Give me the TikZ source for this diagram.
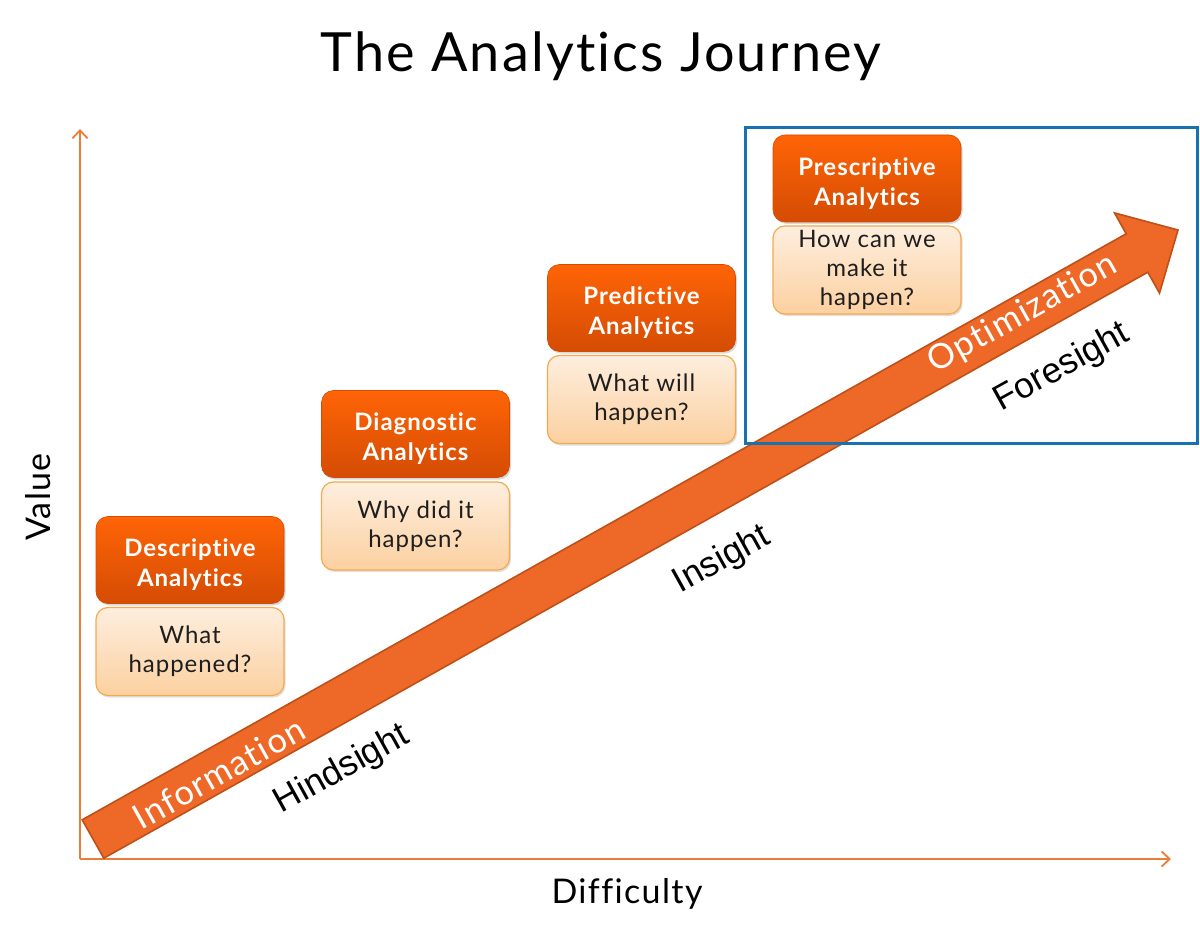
\documentclass[tikz,border=0pt]{standalone}
\usepackage{fontspec}
\setmainfont[Ligatures=NoCommon]{Lato}
\newfontfamily\av[LetterSpace=4,Ligatures=NoCommon]{Lato}
\newfontfamily\arialf{Liberation Sans}
\usetikzlibrary{arrows.meta,shadows}
\definecolor{axiscol}{RGB}{235,125,60}
\definecolor{boxtop}{RGB}{255,100,6}
\definecolor{boxbot}{RGB}{212,76,4}
\definecolor{qtop}{RGB}{253,238,222}
\definecolor{qbot}{RGB}{252,208,160}
\definecolor{qborder}{RGB}{243,170,80}
\definecolor{arrowfill}{RGB}{238,104,40}
\definecolor{arrowedge}{RGB}{190,80,25}
\definecolor{bluecol}{RGB}{24,114,176}
\definecolor{qtext}{RGB}{30,30,30}
\newcommand{\boxlines}[2]{\raisebox{-5pt}[\height][\depth]{\parbox{188pt}{\centering #1\\#2}}}
\begin{document}
\begin{tikzpicture}[x=1pt,y=-1pt,
  axisline/.style={draw=axiscol,line width=1.8pt,-{Straight Barb[length=8pt,width=15pt,line width=1.8pt]}},
  topbox/.style={rounded corners=12pt,minimum width=188pt,minimum height=87pt,inner sep=0pt,
    top color=boxtop,bottom color=boxbot,draw=boxbot,line width=0.6pt,text=white,align=center,
    font=\av\bfseries\fontsize{24}{30}\selectfont,
    drop shadow={opacity=0.3,shadow xshift=1.5pt,shadow yshift=-2pt}},
  qbox/.style={rounded corners=12pt,minimum width=188pt,minimum height=88pt,inner sep=0pt,
    top color=qtop,bottom color=qbot,draw=qborder,line width=1.2pt,text=qtext,align=center,
    font=\av\fontsize{24}{29}\selectfont,
    drop shadow={opacity=0.25,shadow xshift=1.5pt,shadow yshift=-2pt}},
  bigarrow/.style={fill=arrowfill,draw=arrowedge,line width=1.6pt,line join=miter},
  ontext/.style={text=white,font=\av\fontsize{34.5}{40}\selectfont,rotate=29.3},
  sidetext/.style={text=black,font=\arialf\fontsize{35.5}{40}\selectfont,rotate=29},
  axislabel/.style={text=black,font=\av\fontsize{34}{38}\selectfont}
]
\useasboundingbox (0,0) rectangle (1200,928);
\fill[white] (0,0) rectangle (1200,928);

% title
\node[anchor=base,font=\av\fontsize{54}{60}\selectfont] (title) at (601,72) {The Analytics Journey};

% axes
\coordinate (O) at (80,859);
\coordinate (ytop) at (80,129);
\coordinate (xend) at (1171,859);
\draw[axisline] (O) -- (ytop);
\draw[axisline] (O) -- (xend);
\node[axislabel,rotate=90] (value) at (38,497) {Value};
\node[axislabel] (difficulty) at (627,894) {Difficulty};

% big arrow
\coordinate (tA) at (82.2,819.8);
\coordinate (tB) at (103.8,858.2);
\coordinate (sB) at (1147.8,272.2);
\coordinate (hB) at (1159.5,293.1);
\coordinate (tip) at (1178,230);
\coordinate (hA) at (1114.5,212.9);
\coordinate (sA) at (1126.2,233.8);
\draw[bigarrow] (tA) -- (tB) -- (sB) -- (hB) -- (tip) -- (hA) -- (sA) -- cycle;

\node[ontext] (information) at (219,773) {Information};
\node[ontext] (optimization) at (1023,314) {Optimization};

\node[sidetext] (hindsight) at (342,770) {Hindsight};
\node[sidetext] (insight) at (722,560) {Insight};
\node[sidetext] (foresight) at (1062,368) {Foresight};

% boxes
\node[topbox] (desc) at (190,560) {\boxlines{Descriptive}{Analytics}};
\node[qbox] (descq) at (190,651.5) {What\\happened?};
\node[topbox] (diag) at (415.5,434) {\boxlines{Diagnostic}{Analytics}};
\node[qbox] (diagq) at (415.5,526) {Why did it\\happen?};
\node[topbox] (pred) at (641.5,308) {\boxlines{Predictive}{Analytics}};
\node[qbox] (predq) at (641.5,399.5) {What will\\happen?};
\node[topbox] (presc) at (867,178.5) {\boxlines{Prescriptive}{Analytics}};
\node[qbox] (prescq) at (867,270) {How can we\\make it\\happen?};

% highlight frame
\draw[bluecol,line width=3pt] (745,128) rectangle (1197,443);
\end{tikzpicture}
\end{document}
